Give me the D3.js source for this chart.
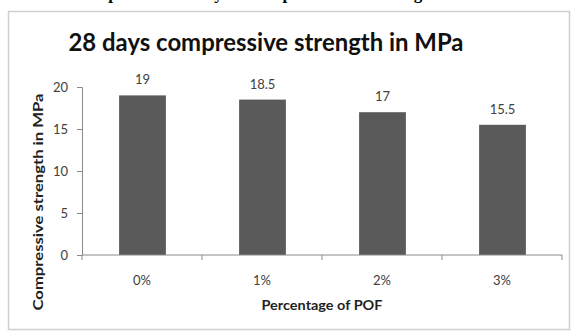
<!DOCTYPE html>
<html>
<head>
<meta charset="utf-8">
<script src="https://cdn.jsdelivr.net/npm/d3@7"></script>
<style>
  html, body { margin: 0; padding: 0; background: #fff; }
  svg { display: block; }
</style>
</head>
<body>
<svg id="chart" width="574" height="332"></svg>
<script>
// Chart data
const categories = ["0%", "1%", "2%", "3%"];
const strengths = [19, 18.5, 17, 15.5];
const yTicks = [0, 5, 10, 15, 20];

const chartTitle = "28 days compressive strength in MPa";
const xTitle = "Percentage of POF";
const yTitle = "Compressive strength in MPa";
const captionAbove = "Graph of 28 days Compressive strength";

const W = 574, H = 332;
const svg = d3.select("#chart");
const font = "Lato, 'Open Sans', sans-serif";

// Caption line from the surrounding page, cut by the top edge
svg.append("text")
  .attr("x", 72).attr("y", -1)
  .attr("textLength", 370)
  .attr("lengthAdjust", "spacing")
  .attr("font-family", "'Liberation Serif', serif")
  .attr("font-weight", "bold")
  .attr("font-size", 17)
  .attr("fill", "#000")
  .text(captionAbove);

// Chart frame
svg.append("rect")
  .attr("x", 8.5).attr("y", 11.5)
  .attr("width", 561).attr("height", 318)
  .attr("fill", "#fff")
  .attr("stroke", "#cfcfcf")
  .attr("stroke-width", 1.5);

const plot = { left: 82, right: 562, top: 87, bottom: 255 };

const x = d3.scaleBand()
  .domain(categories)
  .range([plot.left, plot.right])
  .padding(0);

const y = d3.scaleLinear()
  .domain([0, 20])
  .range([plot.bottom, plot.top]);

const barW = x.bandwidth() * 0.39;

// Bars
svg.append("g").selectAll("rect")
  .data(categories)
  .join("rect")
  .attr("x", (d) => x(d) + x.bandwidth() / 2 - barW / 2 + 0.5)
  .attr("y", (d, i) => y(strengths[i]))
  .attr("width", barW)
  .attr("height", (d, i) => y(0) - y(strengths[i]))
  .attr("fill", "#5a5a5a");

// Value labels
svg.append("g").selectAll("text")
  .data(categories)
  .join("text")
  .attr("x", (d) => x(d) + x.bandwidth() / 2 + 0.5)
  .attr("y", (d, i) => y(strengths[i]) - 11)
  .attr("text-anchor", "middle")
  .attr("font-family", font)
  .attr("font-size", 13)
  .attr("fill", "#404040")
  .text((d, i) => d3.format("")(strengths[i]));

// Y axis
const yAxis = svg.append("g")
  .attr("transform", `translate(${plot.left},0)`)
  .call(d3.axisLeft(y).tickValues(yTicks).tickSize(5).tickPadding(9));
yAxis.select(".domain").attr("stroke", "#8a8a8a");
yAxis.selectAll(".tick line").attr("stroke", "#8a8a8a");
yAxis.selectAll(".tick text")
  .attr("font-family", font)
  .attr("font-size", 13)
  .attr("fill", "#404040");

// X axis with ticks at category boundaries
const xAxis = svg.append("g")
  .attr("transform", `translate(0,${plot.bottom})`);
xAxis.append("line")
  .attr("x1", plot.left).attr("x2", plot.right)
  .attr("stroke", "#8a8a8a");
const bounds = categories.map((d) => x(d)).concat([plot.right]);
xAxis.selectAll("line.tk")
  .data(bounds)
  .join("line")
  .attr("class", "tk")
  .attr("x1", (d) => d).attr("x2", (d) => d)
  .attr("y1", 0).attr("y2", 5)
  .attr("stroke", "#8a8a8a");
xAxis.selectAll("text")
  .data(categories)
  .join("text")
  .attr("x", (d) => x(d) + x.bandwidth() / 2)
  .attr("y", 30)
  .attr("text-anchor", "middle")
  .attr("font-family", font)
  .attr("font-size", 13)
  .attr("fill", "#404040")
  .text((d) => d);

// Titles
svg.append("text")
  .attr("x", 266).attr("y", 51)
  .attr("text-anchor", "middle")
  .attr("textLength", 395)
  .attr("lengthAdjust", "spacingAndGlyphs")
  .attr("font-family", font)
  .attr("font-weight", "bold")
  .attr("font-size", 25)
  .attr("fill", "#111")
  .text(chartTitle);

svg.append("text")
  .attr("x", 322).attr("y", 310)
  .attr("text-anchor", "middle")
  .attr("textLength", 121)
  .attr("lengthAdjust", "spacingAndGlyphs")
  .attr("font-family", font)
  .attr("font-weight", "bold")
  .attr("font-size", 13)
  .attr("fill", "#222")
  .text(xTitle);

svg.append("text")
  .attr("transform", "translate(43,202) rotate(-90)")
  .attr("text-anchor", "middle")
  .attr("textLength", 217)
  .attr("lengthAdjust", "spacingAndGlyphs")
  .attr("font-family", font)
  .attr("font-weight", "bold")
  .attr("font-size", 14)
  .attr("fill", "#222")
  .text(yTitle);
</script>
</body>
</html>
